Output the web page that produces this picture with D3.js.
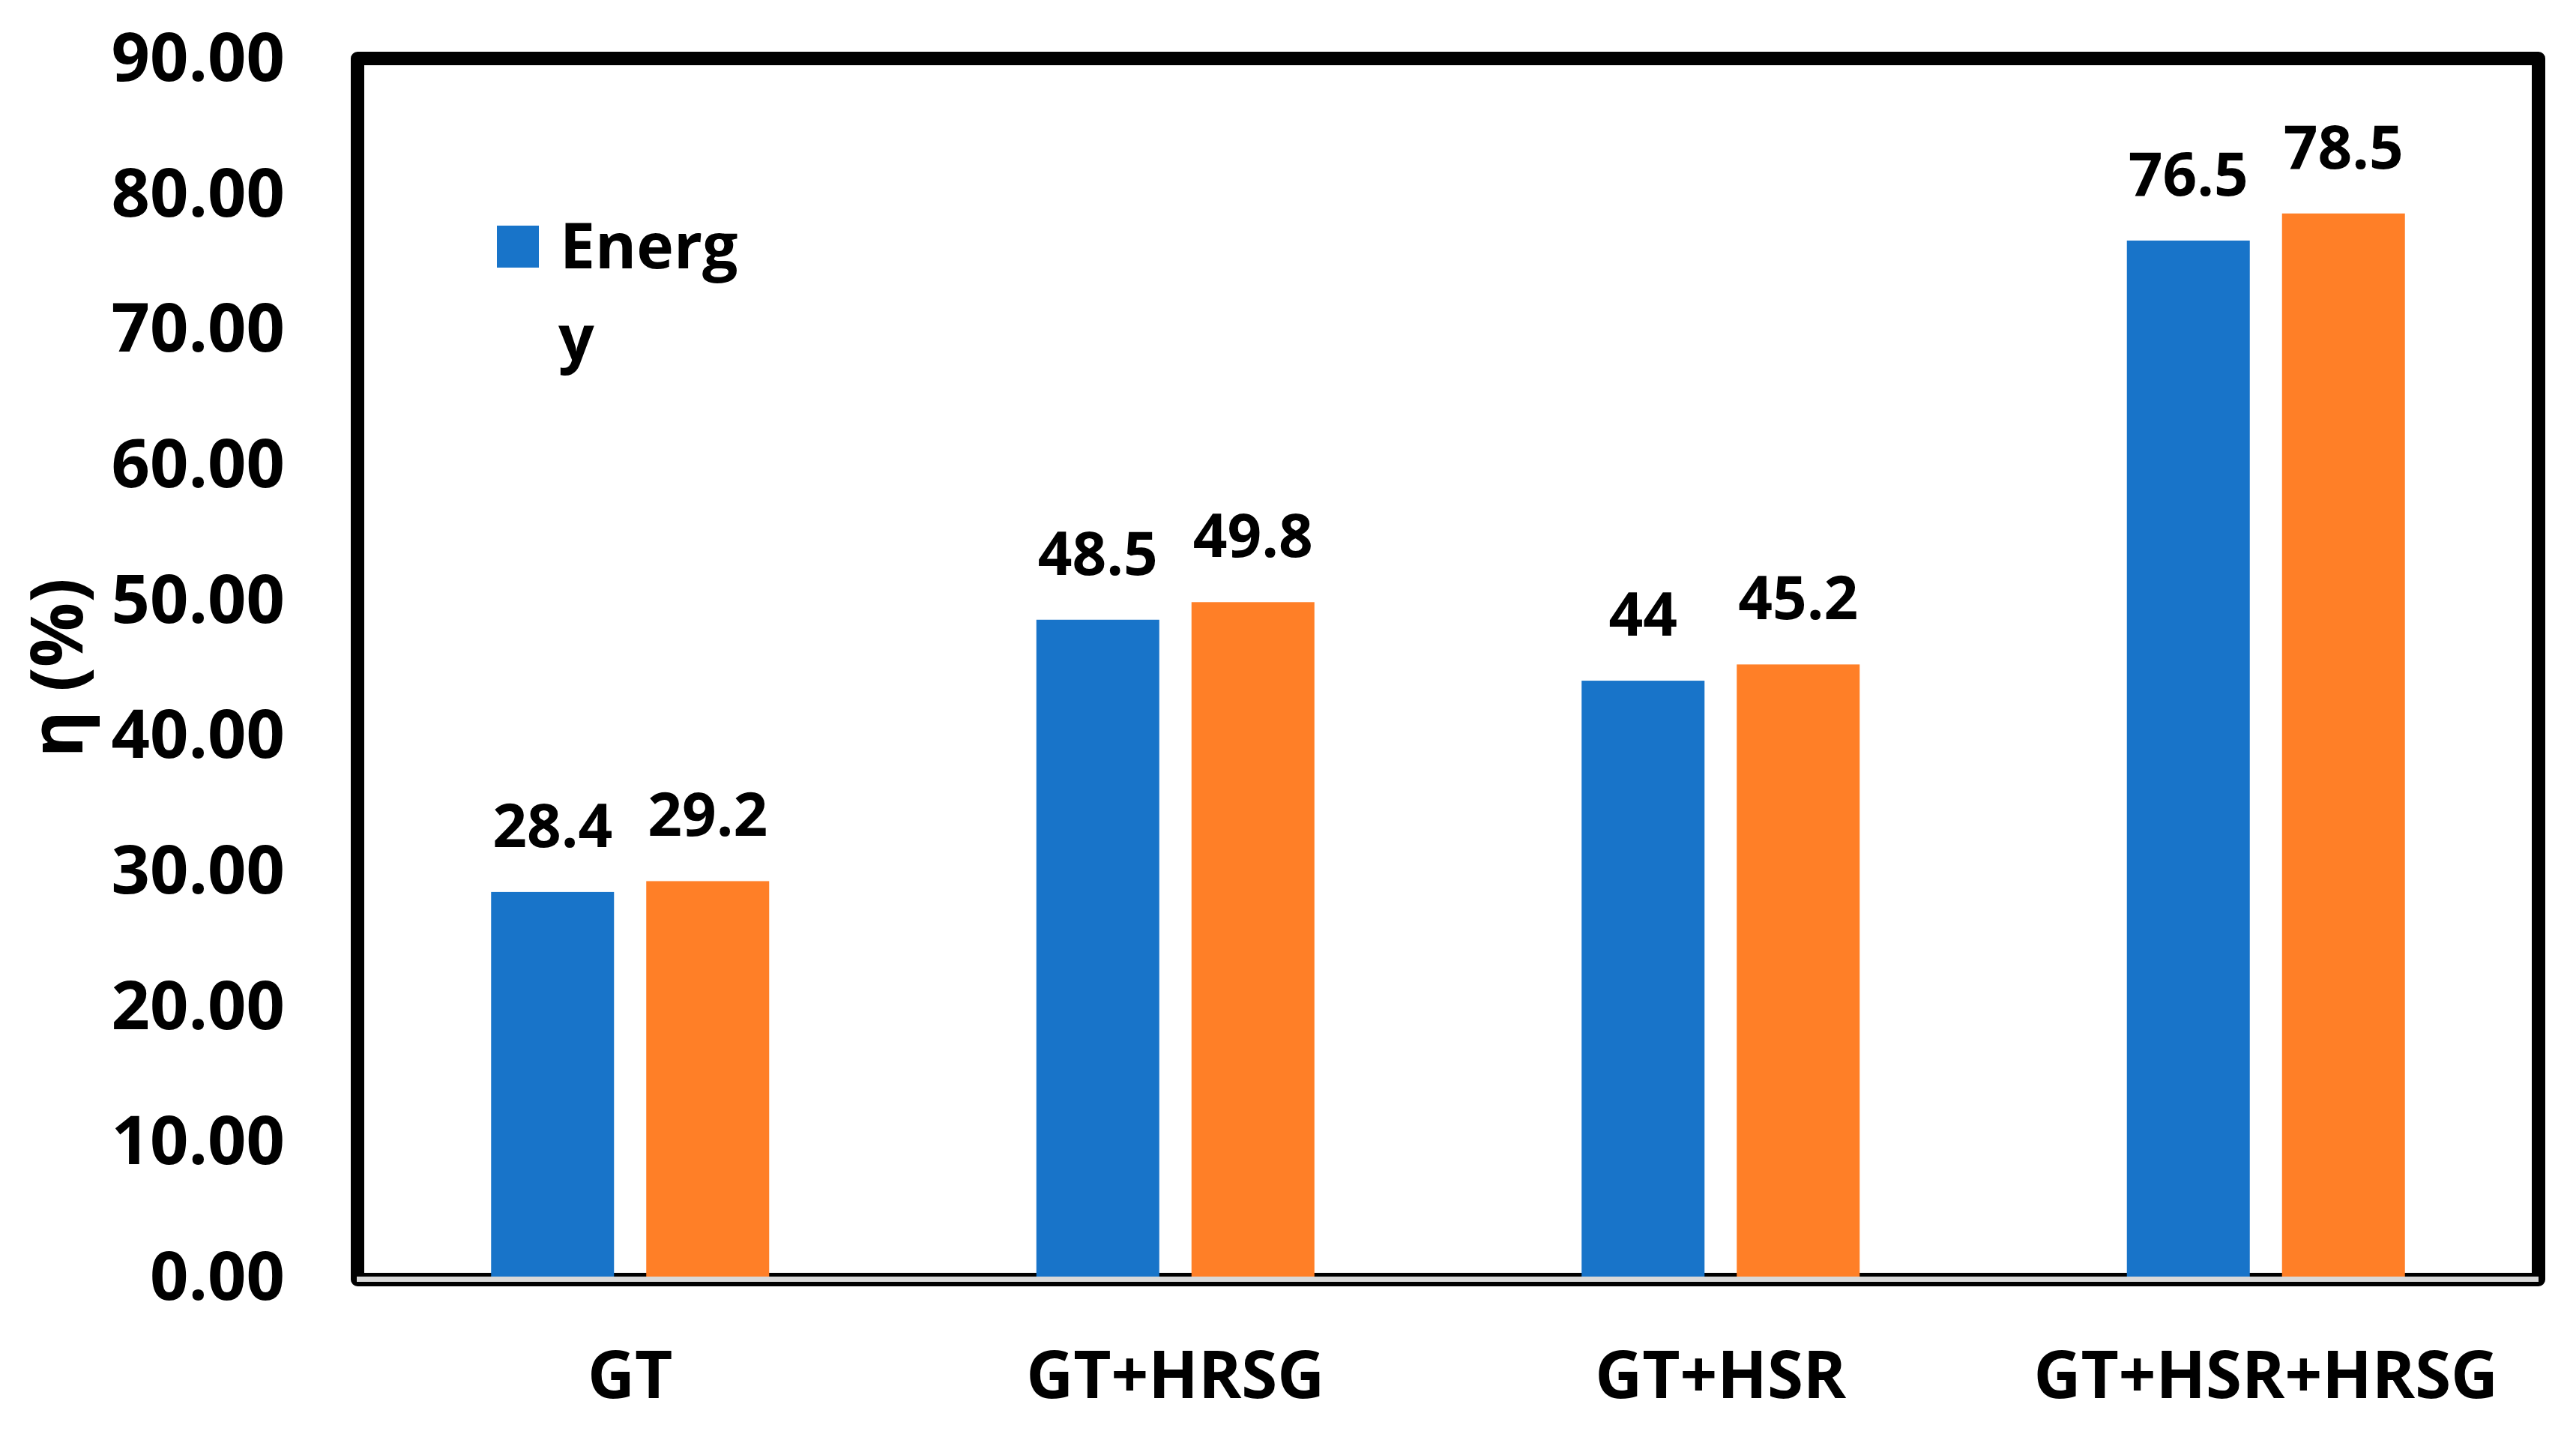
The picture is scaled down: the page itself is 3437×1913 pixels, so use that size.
<!DOCTYPE html>
<html>
<head>
<meta charset="utf-8">
<script src="https://cdn.jsdelivr.net/npm/d3@7"></script>
<style>
  body { margin: 0; background: #fff; }
  text { font-family: "Open Sans", "DejaVu Sans", sans-serif; font-weight: bold; fill: #000; }
</style>
</head>
<body>
<div id="chart"></div>
<script>
// data
let categories = ["GT", "GT+HRSG", "GT+HSR", "GT+HSR+HRSG"]
let seriesNames = ["Energy", "Exergy"]
let energy = [28.4, 48.5, 44, 76.5]
let exergy = [29.2, 49.8, 45.2, 78.5]
let yTicks = [0, 10, 20, 30, 40, 50, 60, 70, 80, 90]

let colors = ["#1874c9", "#ff7f27"]

let W = 3437, H = 1913
let plot = { left: 477, right: 3387, top: 78, bottom: 1707 }

let svg = d3.select("#chart")
  .append("svg")
  .attr("width", W)
  .attr("height", H)

svg.append("rect")
  .attr("width", W).attr("height", H)
  .attr("fill", "#fff")

// scales
let x = d3.scaleBand()
  .domain(categories)
  .range([plot.left, plot.right])
  .padding(0)

let bw = x.bandwidth()
let xs = d3.scaleBand()
  .domain(seriesNames)
  .range([bw / 2 - 185.5, bw / 2 + 185.5])
  .paddingInner(0.2077)
  .paddingOuter(0)

let y = d3.scaleLinear()
  .domain([0, 90])
  .range([1703, 77])

// chart border
svg.append("rect")
  .attr("x", plot.left)
  .attr("y", plot.top)
  .attr("width", plot.right - plot.left)
  .attr("height", plot.bottom - plot.top)
  .attr("fill", "none")
  .attr("stroke", "#000")
  .attr("stroke-width", 18)
  .attr("stroke-linejoin", "round")

// bars
let rows = categories.map(function (c, i) {
  return { cat: c, values: [
    { name: seriesNames[0], v: energy[i] },
    { name: seriesNames[1], v: exergy[i] }
  ] }
})

let groups = svg.selectAll(".grp")
  .data(rows)
  .enter()
  .append("g")
  .attr("class", "grp")
  .attr("transform", function (d) { return "translate(" + x(d.cat) + ",0)" })

groups.selectAll("rect")
  .data(function (d) { return d.values })
  .enter()
  .append("rect")
  .attr("x", function (d) { return xs(d.name) })
  .attr("width", xs.bandwidth())
  .attr("y", function (d) { return y(d.v) })
  .attr("height", function (d) { return y(0) - y(d.v) })
  .attr("fill", function (d, i) { return colors[i] })

// value labels
groups.selectAll(".val")
  .data(function (d) { return d.values })
  .enter()
  .append("text")
  .attr("class", "val")
  .attr("x", function (d) { return xs(d.name) + xs.bandwidth() / 2 })
  .attr("y", function (d) { return y(d.v) - 60 })
  .attr("text-anchor", "middle")
  .style("font-size", "80px")
  .text(function (d) { return String(d.v) })

// x axis line (light grey)
svg.append("line")
  .attr("x1", plot.left - 1)
  .attr("x2", plot.right)
  .attr("y1", y(0) + 3.5)
  .attr("y2", y(0) + 3.5)
  .attr("stroke", "#d9d9d9")
  .attr("stroke-width", 7)

// y axis labels
let yAxis = svg.append("g")
  .attr("transform", "translate(380,0)")
  .call(d3.axisLeft(y).tickValues(yTicks).tickSize(0).tickPadding(0).tickFormat(d3.format(".2f")))
yAxis.select(".domain").remove()
yAxis.selectAll("text")
  .attr("x", 0)
  .attr("dy", "0.34em")
  .style("font-family", "'Open Sans', sans-serif")
  .style("font-weight", "bold")
  .style("font-size", "90px")
  .attr("fill", "#000")

// x axis labels
let xAxis = svg.append("g")
  .attr("transform", "translate(0,1865)")
  .call(d3.axisBottom(x).tickSize(0).tickPadding(0))
xAxis.select(".domain").remove()
xAxis.selectAll("text")
  .attr("y", 0)
  .attr("dy", 0)
  .style("font-family", "'Open Sans', sans-serif")
  .style("font-weight", "bold")
  .style("font-size", "87px")
  .attr("fill", "#000")

// y title
svg.append("text")
  .attr("transform", "translate(110,891) rotate(-90)")
  .attr("text-anchor", "middle")
  .style("font-size", "96px")
  .text("η (%)")

// legend (truncated, wraps like the original)
svg.append("rect")
  .attr("x", 663).attr("y", 301)
  .attr("width", 56).attr("height", 56)
  .attr("fill", colors[0])

let leg = svg.append("text")
  .attr("x", 747)
  .attr("y", 358)
  .style("font-size", "84px")
leg.append("tspan").attr("x", 747).text(seriesNames[0].slice(0, 5))
leg.append("tspan").attr("x", 745).attr("dy", 123).text(seriesNames[0].slice(5))
</script>
</body>
</html>
